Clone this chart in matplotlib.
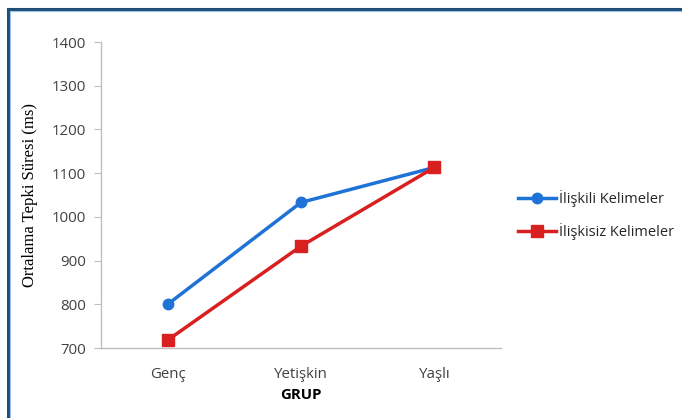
import matplotlib.pyplot as plt
from matplotlib.lines import Line2D

# data
groups = ["Genç", "Yetişkin", "Yaşlı"]
iliskili = [800, 1033, 1113]
iliskisiz = [718, 933, 1113]
yticks = [700, 800, 900, 1000, 1100, 1200, 1300, 1400]

plt.rcParams['font.family'] = ['Open Sans', 'DejaVu Sans']

fig = plt.figure(figsize=(6.82, 4.18), dpi=100)
W, H = 682, 418

# outer frame (only top and left visible)
fig.add_artist(Line2D([8/W, 8/W], [0, 1 - 9/H], color='#1F4E79', lw=2.2))
fig.add_artist(Line2D([8/W, 1], [1 - 9/H, 1 - 9/H], color='#1F4E79', lw=2.2))
fig.add_artist(Line2D([9.5/W, 9.5/W], [0, 1 - 10.5/H], color='#9DC3E6', lw=0.8))
fig.add_artist(Line2D([9.5/W, 1], [1 - 10.5/H, 1 - 10.5/H], color='#9DC3E6', lw=0.8))

ax = fig.add_axes([101/W, 1 - 348/H, 400/W, 306/H])
x = range(len(groups))
ax.plot(x, iliskili, color='#1F72D6', lw=2.5, marker='o', ms=7.5, label='İlişkili Kelimeler')
ax.plot(x, iliskisiz, color='#D92020', lw=2.5, marker='s', ms=8.5, label='İlişkisiz Kelimeler')

ax.set_xlim(-0.5, 2.5)
ax.set_ylim(700, 1400)
ax.set_yticks(yticks)
ax.set_xticks(list(x))
ax.set_xticklabels(groups)
ax.tick_params(axis='y', length=5, color='#BFBFBF', labelsize=10.8, colors='#404040', pad=6)
ax.tick_params(axis='x', length=0, labelsize=10.8, colors='#404040', pad=14)
for s in ['top', 'right']:
    ax.spines[s].set_visible(False)
for s in ['left', 'bottom']:
    ax.spines[s].set_color('#BFBFBF')
    ax.spines[s].set_linewidth(1)
ax.set_xlabel('GRUP', fontsize=10.8, fontweight='bold', labelpad=4)
ax.set_ylabel('Ortalama Tepki Süresi (ms)', fontsize=12, family='Liberation Serif')
ax.yaxis.set_label_coords(-0.158, 0.5)

ax.legend(loc='center left', bbox_to_anchor=(505/W, 1 - 215/H), bbox_transform=fig.transFigure,
          frameon=False, fontsize=10.5, handlelength=2.6, labelspacing=1.1, handletextpad=0.2,
          labelcolor='#262626')

fig.savefig('out.png', dpi=100)
